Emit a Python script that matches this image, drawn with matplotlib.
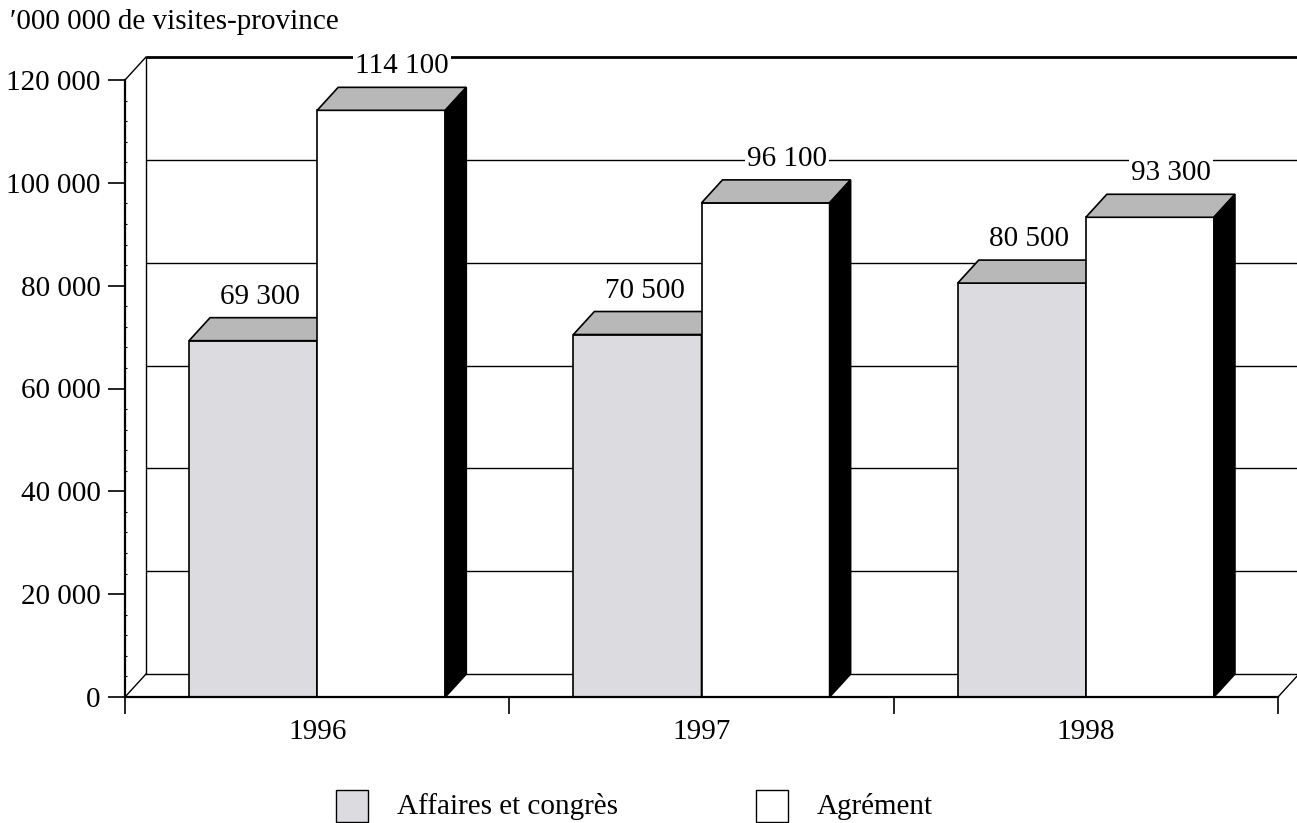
import matplotlib
matplotlib.use("Agg")
import matplotlib.pyplot as plt
from matplotlib.patches import Rectangle, Polygon
from matplotlib.ticker import MultipleLocator, FixedLocator
import numpy as np

categories = ["1996", "1997", "1998"]
series_names = ["Affaires et congrès", "Agrément"]
affaires = [69300, 70500, 80500]
agrement = [114100, 96100, 93300]
value_labels_aff = ["69 300", "70 500", "80 500"]
value_labels_agr = ["114 100", "96 100", "93 300"]
yticks = [0, 20000, 40000, 60000, 80000, 100000, 120000]
ytick_labels = ["0", "20 000", "40 000", "60 000", "80 000", "100 000", "120 000"]
ylabel = "′000 000 de visites-province"

FONT = ["Liberation Serif", "DejaVu Serif"]
plt.rcParams["font.family"] = FONT
FS = 21

W, H = 1297, 823
fig = plt.figure(figsize=(W / 100, H / 100), dpi=100)
left_px, right_px, top_px, bot_px = 125, 1278, 80, 697
ax = fig.add_axes([left_px / W, (H - bot_px) / H, (right_px - left_px) / W, (bot_px - top_px) / H])
ax.set_xlim(0, 3)
ax.set_ylim(0, 120000)
ax.set_facecolor("none")

# depth offset in data units (21 px right, 23 px up)
fig.canvas.draw()
inv = ax.transData.inverted()
o = ax.transData.transform((0, 0))
p = inv.transform(o + np.array([21.0, 23.0]))
ddx, ddy = p[0], p[1]

ymax = 120000
xr = 3
# back wall gridlines
for i, yv in enumerate(yticks):
    lw = 2.0 if yv == ymax else 1.0
    ax.plot([ddx, xr + ddx], [yv + ddy, yv + ddy], color="black", lw=lw, zorder=1, clip_on=False,
            solid_capstyle="butt")
# back wall vertical
ax.plot([ddx, ddx], [ddy, ymax + ddy], color="black", lw=1.0, zorder=1, clip_on=False)
# left diagonals
for yv in [0, ymax]:
    ax.plot([0, ddx], [yv, yv + ddy], color="black", lw=1.0, zorder=1, clip_on=False)
# right floor diagonal
ax.plot([xr, xr + ddx], [0, ddy], color="black", lw=1.0, zorder=1, clip_on=False)

# bars
bw = 1 / 3
grey_front = "#dcdce0"
top_col = "#b8b8b8"
edge = "black"

def draw_bar(x0, v, front, side, z):
    ax.add_patch(Rectangle((x0, 0), bw, v, facecolor=front, edgecolor=edge, lw=1.2, zorder=z, clip_on=False))
    ax.add_patch(Polygon([(x0, v), (x0 + bw, v), (x0 + bw + ddx, v + ddy), (x0 + ddx, v + ddy)],
                         closed=True, facecolor=top_col, edgecolor=edge, lw=1.2, zorder=z, clip_on=False))
    ax.add_patch(Polygon([(x0 + bw, 0), (x0 + bw + ddx, ddy), (x0 + bw + ddx, v + ddy), (x0 + bw, v)],
                         closed=True, facecolor=side, edgecolor=edge, lw=1.2, zorder=z, clip_on=False))

px_per_cat = (right_px - left_px) / 3
lab_off_aff = 7 / px_per_cat
for i in range(3):
    xa = i + 0.5 - bw
    draw_bar(xa, affaires[i], grey_front, grey_front, 3)
    xg = i + 0.5
    draw_bar(xg, agrement[i], "white", "black", 4)

# labels (centred ~21 px above back top edge)
lab_dy = inv.transform(o + np.array([0, 44.0]))[1]
for i in range(3):
    xa = i + 0.5 - bw
    ax.text(xa + bw / 2 + lab_off_aff, affaires[i] + lab_dy, value_labels_aff[i], ha="center", va="center",
            fontsize=FS, zorder=6, bbox=dict(facecolor="white", edgecolor="none", pad=1.5))
    xg = i + 0.5
    ax.text(xg + bw / 2 + ddx, agrement[i] + lab_dy, value_labels_agr[i], ha="center", va="center",
            fontsize=FS, zorder=6, bbox=dict(facecolor="white", edgecolor="none", pad=1.5))

# spines and ticks
for s in ["top", "right"]:
    ax.spines[s].set_visible(False)
ax.spines["left"].set_linewidth(1.6)
ax.spines["bottom"].set_linewidth(1.6)
ax.spines["left"].set_zorder(5)
ax.spines["bottom"].set_zorder(5)
ax.set_yticks(yticks)
ax.set_yticklabels(ytick_labels, fontsize=FS)
ax.yaxis.set_minor_locator(MultipleLocator(4000))
ax.tick_params(axis="y", which="major", length=12.5, width=1.2, direction="out", pad=5)
ax.tick_params(axis="y", which="minor", length=1.5, width=0.8, direction="in")
ax.set_xticks([0, 1, 2, 3])
ax.set_xticklabels([])
ax.xaxis.set_minor_locator(FixedLocator([0.5, 1.5, 2.5]))
ax.set_xticklabels(categories, minor=True, fontsize=FS)
ax.tick_params(axis="x", which="major", length=12.5, width=1.2, direction="out")
ax.tick_params(axis="x", which="minor", length=0, pad=16)

fig.text(10 / W, 1 - 22 / H, ylabel, fontsize=FS, ha="left", va="center")

# legend
leg = [(336, grey_front, series_names[0]), (756, "white", series_names[1])]
for xpx, col, name in leg:
    fig.patches.append(Rectangle((xpx / W, 1 - 822 / H), 32 / W, 32 / H, transform=fig.transFigure,
                                 facecolor=col, edgecolor="black", lw=1.0, figure=fig))
    fig.text((xpx + 61) / W, 1 - 806 / H, name, fontsize=FS, ha="left", va="center")

fig.savefig("out.png", dpi=100)
